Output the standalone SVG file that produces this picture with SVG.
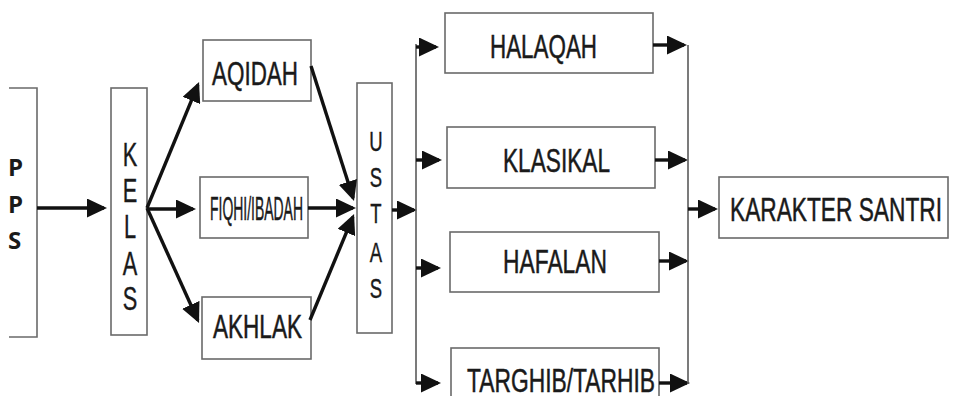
<svg xmlns="http://www.w3.org/2000/svg" width="953" height="396" viewBox="0 0 953 396">
  <style>
    .box { fill: #ffffff; stroke: #6a6a6a; stroke-width: 1.6; }
    .lbl { font-family: "Liberation Sans", Arial, sans-serif; font-size: 33px; fill: #1a1a1a; stroke: #1a1a1a; stroke-width: 0.5; }
    .vl { font-family: "Liberation Sans", Arial, sans-serif; fill: #1a1a1a; text-anchor: middle; stroke: #1a1a1a; stroke-width: 0.4; }
    .pps { font-family: "Open Sans", "DejaVu Sans", sans-serif; font-weight: bold; font-size: 24px; fill: #1a1a1a; }
    .arr { fill: none; stroke: #111111; stroke-width: 3.4; marker-end: url(#head); }
    .bus { fill: none; stroke: #5a5a5a; stroke-width: 1.6; }
  </style>
  <defs>
    <marker id="head" markerUnits="userSpaceOnUse" viewBox="0 0 20 19" markerWidth="20" markerHeight="19" refX="17" refY="9.5" orient="auto">
      <path d="M0,0 L20,9.5 L0,19 Z" fill="#111111"/>
    </marker>
  </defs>
  <rect width="953" height="396" fill="#ffffff"/>

  <!-- PPS (open on the left) -->
  <g id="pps">
    <path class="box" d="M9,88 H37 V337 H9"/>
    <text class="pps" x="8" y="176">P</text>
    <text class="pps" x="8" y="213">P</text>
    <text class="pps" x="8" y="249">S</text>
  </g>

  <!-- KELAS -->
  <g id="kelas">
    <rect class="box" x="111" y="88" width="36" height="247"/>
    <g transform="translate(130,0) scale(0.64,1)">
      <text class="vl" font-size="34" x="0" y="166">K</text>
      <text class="vl" font-size="34" x="0" y="202">E</text>
      <text class="vl" font-size="34" x="0" y="238">L</text>
      <text class="vl" font-size="34" x="0" y="275">A</text>
      <text class="vl" font-size="34" x="0" y="310">S</text>
    </g>
  </g>

  <g id="aqidah">
    <rect class="box" x="203" y="40" width="108" height="61"/>
    <text class="lbl" x="212" y="85" textLength="86" lengthAdjust="spacingAndGlyphs">AQIDAH</text>
  </g>

  <g id="fiqhi">
    <rect class="box" x="200" y="177" width="108" height="61"/>
    <text class="lbl" font-size="31" x="210" y="220" textLength="93" lengthAdjust="spacingAndGlyphs">FIQHI/IBADAH</text>
  </g>

  <g id="akhlak">
    <rect class="box" x="202" y="297" width="109" height="62"/>
    <text class="lbl" x="213" y="338" textLength="89" lengthAdjust="spacingAndGlyphs">AKHLAK</text>
  </g>

  <!-- USTAS -->
  <g id="ustas">
    <rect class="box" x="357" y="83" width="35" height="250"/>
    <g transform="translate(376,0) scale(0.66,1)">
      <text class="vl" font-size="28" x="0" y="151">U</text>
      <text class="vl" font-size="28" x="0" y="187">S</text>
      <text class="vl" font-size="28" x="0" y="223">T</text>
      <text class="vl" font-size="28" x="0" y="262">A</text>
      <text class="vl" font-size="28" x="0" y="298">S</text>
    </g>
  </g>

  <g id="halaqah">
    <rect class="box" x="445" y="13" width="208" height="60"/>
    <text class="lbl" x="490" y="58" textLength="107" lengthAdjust="spacingAndGlyphs">HALAQAH</text>
  </g>

  <g id="klasikal">
    <rect class="box" x="447" y="127" width="208" height="61"/>
    <text class="lbl" x="503" y="172" textLength="107" lengthAdjust="spacingAndGlyphs">KLASIKAL</text>
  </g>

  <g id="hafalan">
    <rect class="box" x="450" y="232" width="209" height="60"/>
    <text class="lbl" x="503" y="273" textLength="104" lengthAdjust="spacingAndGlyphs">HAFALAN</text>
  </g>

  <g id="targhib">
    <rect class="box" x="451" y="348" width="208" height="62"/>
    <text class="lbl" x="467" y="392" textLength="188" lengthAdjust="spacingAndGlyphs">TARGHIB/TARHIB</text>
  </g>

  <g id="karakter">
    <rect class="box" x="719" y="177" width="229" height="61"/>
    <text class="lbl" x="730" y="221" textLength="212" lengthAdjust="spacingAndGlyphs">KARAKTER SANTRI</text>
  </g>

  <!-- connectors -->
  <g id="connectors">
    <line class="arr" x1="37" y1="208" x2="104" y2="208"/>
    <line class="arr" x1="147" y1="208" x2="197.9" y2="84.8"/>
    <line class="arr" x1="147" y1="209" x2="193" y2="209"/>
    <line class="arr" x1="147" y1="208" x2="197.8" y2="320.3"/>
    <line class="arr" x1="311" y1="66" x2="353.1" y2="198.1"/>
    <line class="arr" x1="308" y1="208" x2="353" y2="208"/>
    <line class="arr" x1="310" y1="320" x2="352.9" y2="216.8"/>
    <line class="arr" x1="392" y1="210" x2="414" y2="210"/>

    <path class="bus" d="M416,44 V384"/>
    <line class="arr" x1="416" y1="47" x2="436" y2="47"/>
    <line class="arr" x1="416" y1="160" x2="439" y2="160"/>
    <line class="arr" x1="416" y1="268" x2="438" y2="268"/>
    <line class="arr" x1="416" y1="383" x2="438" y2="383"/>

    <line class="arr" x1="653" y1="45" x2="684" y2="45"/>
    <line class="arr" x1="655" y1="160" x2="685" y2="160"/>
    <line class="arr" x1="659" y1="261" x2="686" y2="261"/>
    <line class="arr" x1="659" y1="383" x2="687" y2="383"/>
    <path class="bus" d="M688,45 V384"/>

    <line class="arr" x1="688" y1="209" x2="715" y2="209"/>
  </g>
</svg>
